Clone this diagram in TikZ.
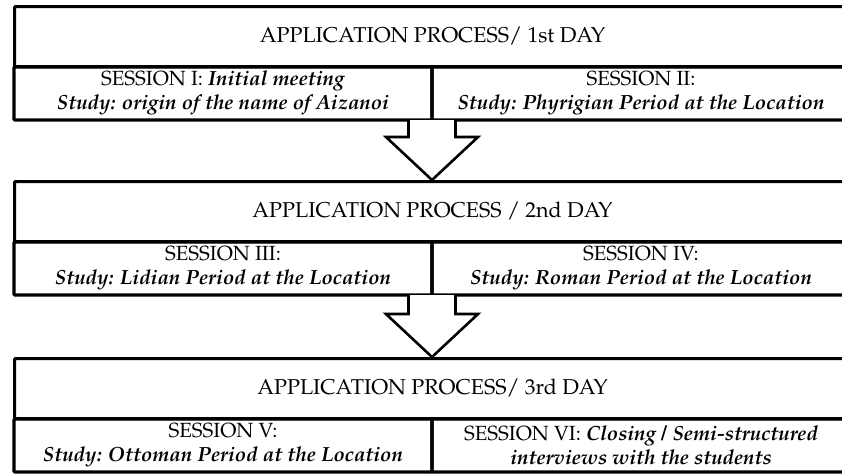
\documentclass[tikz,border=0pt]{standalone}
\usepackage[T1]{fontenc}
\usepackage{mathpazo}
\usetikzlibrary{calc,positioning}

\tikzset{
  daytitle/.style={draw, line width=3pt, rounded corners=1pt, minimum width=836pt, minimum height=60pt, anchor=north west, inner sep=0pt, font=\fontsize{21.5pt}{24pt}\selectfont},
  session/.style={draw, line width=3.2pt, rounded corners=1pt, minimum width=418pt, minimum height=53pt, anchor=north west, inner sep=0pt, outer sep=0pt, align=center, font=\fontsize{20.5pt}{24pt}\selectfont},
  dayarrow/.style={draw, line width=2.6pt, fill=white, line join=miter}
}
\newcommand{\bi}[1]{\textbf{\textit{#1}}}

\begin{document}
\begin{tikzpicture}[x=1pt,y=-1pt]
\useasboundingbox (0,0) rectangle (842,475);
% 1st day
\node[daytitle] (t1) at (13,5) {APPLICATION PROCESS/ 1st DAY};
\node[session] (s11) at (14,67) {SESSION I: \bi{Initial meeting}\\ \bi{Study: origin of the name of Aizanoi}};
\node[session] (s12) at (s11.north east) {SESSION II:\\ \bi{Study: Phyrigian Period at the Location}};
% 2nd day
\node[daytitle] (t2) at (13,180) {APPLICATION PROCESS / 2nd DAY};
\node[session] (s21) at (14,242) {SESSION III:\\ \bi{Study: Lidian Period at the Location}};
\node[session] (s22) at (s21.north east) {SESSION IV:\\ \bi{Study: Roman Period at the Location}};
% 3rd day
\node[daytitle] (t3) at (13,357) {APPLICATION PROCESS/ 3rd DAY};
\node[session] (s31) at (14,419) {SESSION V:\\ \bi{Study: Ottoman Period at the Location}};
\node[session] (s32) at (s31.north east) {SESSION VI: \bi{Closing / Semi-structured}\\ \bi{interviews with the students}};
% arrows between the days
\coordinate (a1) at (s11.south east);
\coordinate (b1) at (a1 |- t2.north);
\coordinate (a2) at (s21.south east);
\coordinate (b2) at (a2 |- t3.north);
\draw[dayarrow] ($(a1)+(-23.5,0)$) -- ($(b1)+(-23.5,-43)$) -- ($(b1)+(-46,-43)$) -- (b1)
  -- ($(b1)+(46,-43)$) -- ($(b1)+(23.5,-43)$) -- ($(a1)+(23.5,0)$);
\draw[dayarrow] ($(a2)+(-23.5,0)$) -- ($(b2)+(-23.5,-43)$) -- ($(b2)+(-46,-43)$) -- (b2)
  -- ($(b2)+(46,-43)$) -- ($(b2)+(23.5,-43)$) -- ($(a2)+(23.5,0)$);
\end{tikzpicture}
\end{document}
